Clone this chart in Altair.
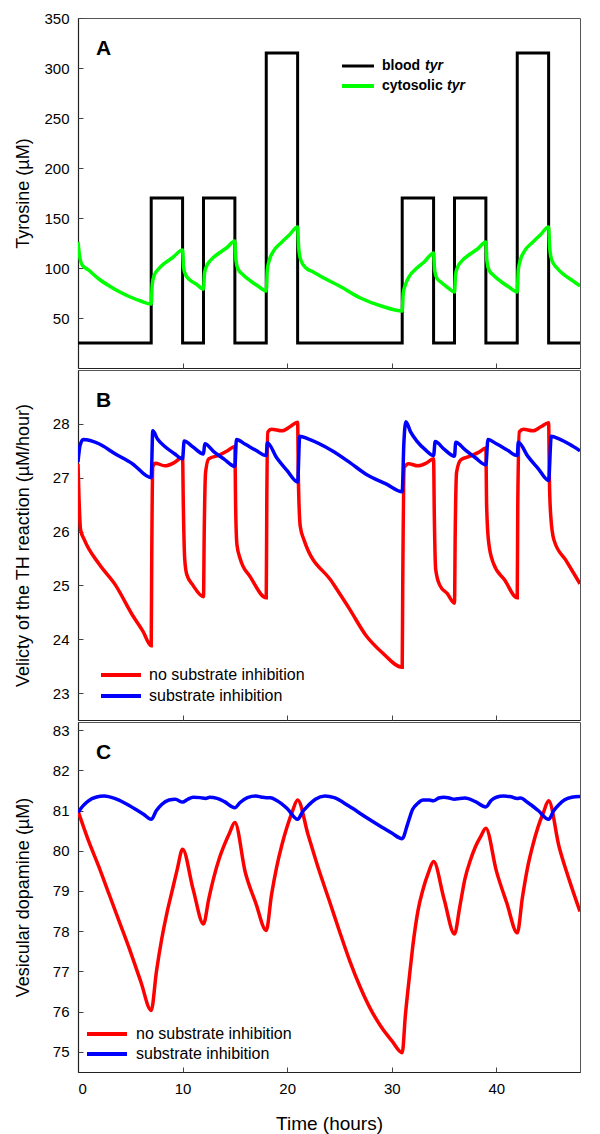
import altair as alt
import pandas as pd

W = 502
H = 350
FONT = "Liberation Sans"

# ---------------- data ----------------
# Panel A
time_blood = [0, 7, 10, 12, 15, 18, 21, 31, 34, 36, 39, 42, 45, 48]
blood_tyr = [25, 170, 25, 170, 25, 315, 25, 170, 25, 170, 25, 315, 25, 25]

time_cyto = [0, 0.15, 0.4, 1, 2, 3, 4, 5, 6, 7,
             7.1, 7.3, 7.7, 8.3, 9, 10,
             10.1, 10.3, 10.7, 11.3, 12,
             12.1, 12.3, 12.7, 13.5, 14.2, 15,
             15.1, 15.3, 15.8, 16.5, 17.2, 18,
             18.1, 18.3, 18.7, 19.5, 20.2, 21,
             21.1, 21.3, 21.8, 22.5, 23.5, 25, 27, 29, 31,
             31.1, 31.3, 31.7, 32.3, 33.1, 34,
             34.1, 34.3, 34.8, 35.4, 36,
             36.1, 36.3, 36.7, 37.5, 38.2, 39,
             39.1, 39.3, 39.8, 40.5, 41.2, 42,
             42.1, 42.3, 42.7, 43.5, 44.2, 45,
             45.1, 45.3, 45.8, 46.5, 47.2, 48]
cyto_tyr = [126, 112, 103, 98, 89, 82, 76, 71, 67, 64,
            84, 93, 99, 105, 110, 118,
            100, 93, 88, 84, 79,
            95, 102, 108, 115, 120, 127,
            108, 99, 93, 87, 82, 77,
            98, 108, 117, 126, 133, 141,
            120, 108, 100, 96, 90, 82, 70, 62, 57,
            75, 83, 92, 99, 106, 115,
            98, 90, 85, 80, 76,
            93, 101, 107, 114, 119, 126,
            107, 98, 92, 86, 81, 76,
            98, 108, 117, 126, 133, 141,
            120, 108, 100, 93, 88, 82]

# Panel B
time_vel_no = [0, 0.1, 0.25, 0.6, 2, 3.6, 5.2, 6.2, 7,
               7.05, 7.15, 7.4, 8.3, 9.2, 10,
               10.07, 10.2, 10.4, 11, 12,
               12.07, 12.2, 12.5, 13.5, 14.3, 15,
               15.07, 15.2, 15.5, 16.5, 18,
               18.05, 18.15, 18.5, 19.5, 20.3, 21,
               21.07, 21.25, 21.6, 24.3, 26, 27.5, 29.1, 31,
               31.05, 31.2, 31.6, 32.5, 33.3, 34,
               34.07, 34.2, 34.6, 35.3, 36,
               36.07, 36.2, 36.6, 37.5, 38.3, 39,
               39.07, 39.25, 39.7, 40.8, 42,
               42.05, 42.2, 42.6, 43.5, 44.3, 45,
               45.07, 45.2, 45.5, 46.7, 48]
vel_no = [27.26, 26.6, 26.03, 25.85, 25.4, 25.0, 24.45, 24.15, 23.88,
          25.5, 27.2, 27.27, 27.22, 27.28, 27.38,
          26.5, 25.5, 25.2, 25.0, 24.79,
          26.0, 27.1, 27.35, 27.42, 27.5, 27.58,
          26.5, 25.75, 25.5, 25.15, 24.77,
          26.5, 27.85, 27.9, 27.87, 27.95, 28.03,
          27.0, 26.1, 25.85, 25.06, 24.55, 24.08, 23.75, 23.48,
          25.0, 27.19, 27.26, 27.22, 27.27, 27.35,
          26.3, 25.3, 25.0, 24.85, 24.67,
          26.0, 27.1, 27.33, 27.4, 27.47, 27.55,
          26.5, 25.83, 25.42, 25.1, 24.77,
          26.5, 27.85, 27.9, 27.87, 27.95, 28.02,
          27.0, 26.3, 25.85, 25.45, 25.03]

time_vel_si = [0, 0.2, 0.5, 2, 3.5, 5.2, 7,
               7.15, 7.6, 8.3, 9.2, 10,
               10.15, 11, 12,
               12.12, 13, 14, 15,
               15.15, 16, 17, 18,
               18.1, 19, 20, 21,
               21.2, 22, 24.3, 26, 27.5, 29.5, 31,
               31.15, 31.35, 31.8, 32.4, 33.2, 34,
               34.15, 35, 36,
               36.12, 37, 38, 39,
               39.2, 40, 41, 42,
               42.1, 43, 44, 45,
               45.25, 46, 47, 48]
vel_si = [27.29, 27.6, 27.71, 27.63, 27.45, 27.26, 27.0,
          27.87, 27.72, 27.58, 27.45, 27.35,
          27.68, 27.57, 27.44,
          27.63, 27.48, 27.34, 27.21,
          27.71, 27.62, 27.51, 27.41,
          27.65, 27.37, 27.13, 26.92,
          27.77, 27.72, 27.5, 27.28, 27.07, 26.88, 26.74,
          27.6, 28.04, 27.85, 27.68, 27.52, 27.41,
          27.67, 27.53, 27.4,
          27.66, 27.52, 27.37, 27.24,
          27.71, 27.63, 27.52, 27.41,
          27.66, 27.4, 27.17, 26.95,
          27.77, 27.72, 27.62, 27.5]

# Panel C
time_da_no = [0, 1, 2, 3, 4, 5, 6, 7,
              7.5, 8, 8.5, 9, 9.5, 10,
              11, 12,
              12.5, 13, 13.5, 14, 14.5, 15,
              16, 17, 18,
              18.5, 19, 19.5, 20, 20.5, 21,
              22, 23, 24, 25, 26, 27, 28, 29, 30, 31,
              31.3, 31.7, 32, 32.5, 33, 33.5, 34,
              35, 36,
              36.5, 37, 37.5, 38, 38.5, 39,
              40, 41, 42,
              42.5, 43, 43.5, 44, 44.5, 45,
              46, 47, 48]
da_no = [80.99, 80.25, 79.6, 78.9, 78.2, 77.5, 76.75, 76.03,
         77.0, 77.8, 78.45, 79.0, 79.55, 80.04,
         79.05, 78.18,
         78.8, 79.35, 79.8, 80.15, 80.45, 80.7,
         79.46, 78.7, 78.02,
         78.9, 79.6, 80.15, 80.6, 80.98, 81.26,
         80.4, 79.55, 78.78, 78.0, 77.25, 76.6, 76.05, 75.62, 75.28, 74.98,
         75.9, 76.9, 77.6, 78.5, 79.05, 79.45, 79.73,
         78.8, 77.93,
         78.6, 79.3, 79.75, 80.1, 80.35, 80.56,
         79.5, 78.7, 77.96,
         78.85, 79.6, 80.15, 80.6, 80.95, 81.24,
         80.1, 79.25, 78.49]

time_da_si = [0, 0.5, 1, 1.7, 2.5, 3.5, 4.5, 5.5, 6.3, 7,
              7.5, 8, 8.7, 9.3, 10, 10.5, 11, 11.7, 12.2, 12.6, 13.3, 14, 15,
              15.5, 16.2, 17, 17.6, 18, 18.4, 19, 20, 21,
              21.5, 22, 22.7, 23.6, 24.5, 25.9, 27.5, 29.1, 30, 31,
              31.5, 32, 32.5, 33, 33.6, 34, 34.5, 35, 35.5, 36, 36.5, 37, 38, 39,
              39.5, 40, 40.7, 41.4, 42, 42.3, 43, 44, 45,
              45.5, 46, 46.5, 47.2, 48]
da_si = [80.95, 81.12, 81.24, 81.33, 81.36, 81.3, 81.18, 81.03, 80.9, 80.78,
         81.0, 81.15, 81.26, 81.28, 81.21, 81.28, 81.33, 81.32, 81.3, 81.33, 81.3, 81.22, 81.07,
         81.2, 81.32, 81.36, 81.33, 81.32, 81.32, 81.25, 81.05, 80.78,
         80.98, 81.12, 81.28, 81.36, 81.32, 81.11, 80.84, 80.58, 80.44, 80.3,
         80.65, 81.03, 81.18, 81.26, 81.26, 81.24, 81.31, 81.33, 81.31, 81.28, 81.3, 81.31, 81.22, 81.09,
         81.25, 81.33, 81.36, 81.34, 81.3, 81.31, 81.2, 81.0, 80.78,
         81.0, 81.15, 81.26, 81.33, 81.35]

x_ticks = [0, 10, 20, 30, 40]
y_ticks_a = [50, 100, 150, 200, 250, 300, 350]
y_ticks_b = [23, 24, 25, 26, 27, 28]
y_ticks_c = [75, 76, 77, 78, 79, 80, 81, 82, 83]
letters = ["A", "B", "C"]
titles = ["Tyrosine (\u00b5M)", "Velicty of the TH reaction (\u00b5M/hour)",
          "Vesicular dopamine (\u00b5M)"]
legend_b = ["no substrate inhibition", "substrate inhibition"]


def frame(t, v):
    return pd.DataFrame({"t": t, "v": v})


xscale = alt.Scale(domain=[0, 48], nice=False, zero=False)


def panel(series, ydom, yticks, ytitle, letter, legend_layers, bottom):
    yscale = alt.Scale(domain=ydom, nice=False, zero=False)
    layers = []
    for i, (df, color, width, interp) in enumerate(series):
        if i == 0:
            xax = alt.Axis(orient="bottom", values=x_ticks, labels=bottom, ticks=False,
                           domain=True, grid=False,
                           title="Time (hours)" if bottom else None,
                           labelPadding=9, titlePadding=18, titleFontSize=19)
            yax = alt.Axis(orient="left", values=yticks, ticks=False, domain=True,
                           grid=False, title=ytitle, titleX=-46, titleY=H / 2,
                           labelPadding=9)
        else:
            xax = None
            yax = None
        layers.append(
            alt.Chart(df).mark_line(color=color, strokeWidth=width, interpolate=interp,
                                    clip=True)
            .encode(x=alt.X("t:Q", scale=xscale, axis=xax),
                    y=alt.Y("v:Q", scale=yscale, axis=yax))
        )
    # inward tick marks through mirrored axes
    layers.append(
        alt.Chart(series[0][0]).mark_line(opacity=0)
        .encode(
            x=alt.X("t:Q", scale=xscale,
                    axis=alt.Axis(orient="top", offset=-H, values=x_ticks[1:], labels=False,
                                  domain=False, ticks=True, tickSize=5, grid=False,
                                  title=None)),
            y=alt.Y("v:Q", scale=yscale,
                    axis=alt.Axis(orient="right", offset=-W, values=yticks, labels=False,
                                  domain=False, ticks=True, tickSize=5, grid=False,
                                  title=None)))
    )
    layers.append(
        alt.Chart(pd.DataFrame({"lab": [letter]})).mark_text(
            font=FONT, fontSize=21, fontWeight="bold", align="left", baseline="middle",
            color="black")
        .encode(x=alt.value(18), y=alt.value(31), text="lab:N")
    )
    layers.extend(legend_layers)
    return alt.layer(*layers).resolve_axis(x="independent", y="independent").properties(
        width=W, height=H)


def legend_rule(color, x1, x2, y, width):
    return alt.Chart(pd.DataFrame({"k": [0]})).mark_rule(
        color=color, strokeWidth=width).encode(
        x=alt.value(x1), x2=alt.value(x2), y=alt.value(y))


def legend_text(label, x, y, size, weight="normal", style="normal"):
    return alt.Chart(pd.DataFrame({"lab": [label]})).mark_text(
        font=FONT, fontSize=size, fontWeight=weight, fontStyle=style,
        align="left", baseline="middle", color="black").encode(
        x=alt.value(x), y=alt.value(y), text="lab:N")


leg_a = [
    legend_rule("black", 264, 296, 48, 3),
    legend_rule("#00FF00", 264, 296, 68, 4),
    legend_text("blood", 304, 48, 14, "bold"),
    legend_text("tyr", 347, 48, 14, "bold", "italic"),
    legend_text("cytosolic", 304, 68, 14, "bold"),
    legend_text("tyr", 369, 68, 14, "bold", "italic"),
]
leg_b = [
    legend_rule("#FF0000", 23, 63, 305, 4),
    legend_rule("#0000FF", 23, 63, 326, 4),
    legend_text(legend_b[0], 71, 305, 16),
    legend_text(legend_b[1], 71, 326, 16),
]
leg_c = [
    legend_rule("#FF0000", 9, 49, 312, 4),
    legend_rule("#0000FF", 9, 49, 332, 4),
    legend_text(legend_b[0], 58, 312, 16),
    legend_text(legend_b[1], 58, 332, 16),
]

pa = panel([(frame(time_blood, blood_tyr), "black", 3, "step-after"),
            (frame(time_cyto, cyto_tyr), "#00FF00", 3.5, "monotone")],
           [0, 350], y_ticks_a, titles[0], letters[0], leg_a, False)
pb = panel([(frame(time_vel_no, vel_no), "#FF0000", 3.5, "monotone"),
            (frame(time_vel_si, vel_si), "#0000FF", 3.5, "monotone")],
           [22.5, 29], y_ticks_b, titles[1], letters[1], leg_b, False)
pc = panel([(frame(time_da_no, da_no), "#FF0000", 3.5, "monotone"),
            (frame(time_da_si, da_si), "#0000FF", 3.5, "monotone")],
           [74.5, 83.2], y_ticks_c, titles[2], letters[2], leg_c, True)

chart = alt.vconcat(pa, pb, pc, spacing=0).configure(
    font=FONT, padding={"top": 2, "left": 5, "right": 5, "bottom": 5}
).configure_view(stroke="#555", strokeWidth=1).configure_axis(
    labelFont=FONT, titleFont=FONT, labelFontSize=15, titleFontSize=18,
    titleFontWeight="normal", labelColor="black", titleColor="black",
    domainColor="#222", tickColor="#444", domainWidth=1.2
)

chart.save("out.html", embed_options={"renderer": "svg", "actions": False})
